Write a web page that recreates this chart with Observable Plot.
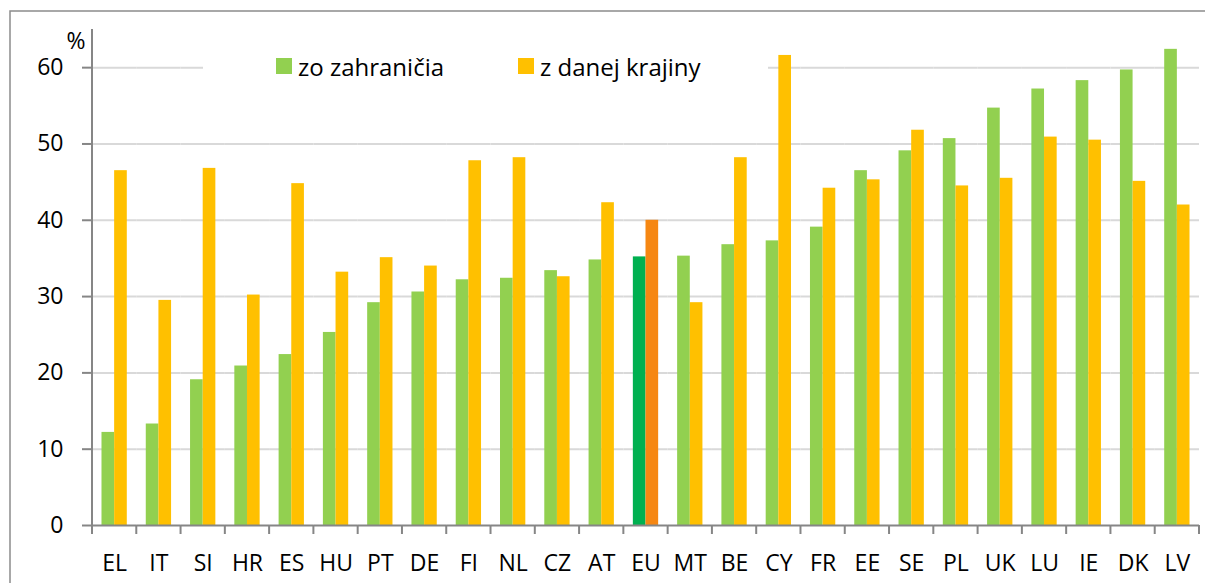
<!DOCTYPE html>
<html><head><meta charset="utf-8">
<script src="https://cdn.jsdelivr.net/npm/d3@7"></script>
<script src="https://cdn.jsdelivr.net/npm/@observablehq/plot@0.6"></script>
<style>
body{margin:0;background:#fff;font-family:"Open Sans",sans-serif}
#wrap{position:relative;width:1205px;height:583px;overflow:hidden}
#wrap svg text{font-size:23px !important}
#wrap svg g[aria-label^="y-axis"] line,#wrap svg g[aria-label="y-axis tick"] path{stroke:#868686;stroke-width:2}
#wrap svg g[aria-label^="y-axis"] path.domain{display:none}
.legend{position:absolute;left:203px;top:49px;width:565px;height:34px;background:#fff}
.item{position:absolute;top:0;height:34px;display:flex;align-items:center;font-size:24px;color:#000;white-space:nowrap}
.sw{width:16px;height:16px;margin-right:6px;flex:none}
</style></head><body><div id="wrap"></div>
<script>
const countries = ["EL","IT","SI","HR","ES","HU","PT","DE","FI","NL","CZ","AT","EU","MT","BE","CY","FR","EE","SE","PL","UK","LU","IE","DK","LV"];
const foreign  = [12.2,13.3,19.1,20.9,22.4,25.3,29.2,30.6,32.2,32.4,33.4,34.8,35.2,35.3,36.8,37.3,39.1,46.5,49.1,50.7,54.7,57.2,58.3,59.7,62.4];
const domestic = [46.5,29.5,46.8,30.2,44.8,33.2,35.1,34.0,47.8,48.2,32.6,42.3,40.0,29.2,48.2,61.6,44.2,45.3,51.8,44.5,45.5,50.9,50.5,45.1,42.0];
const seriesNames = ["zo zahraničia","z danej krajiny"];
const colorKeys = ["zo zahraničia","z danej krajiny","EU zo zahraničia","EU z danej krajiny"];
const colorRange = ["#92D050","#FFC000","#00B050","#F68712"];
const yTicks = [0,10,20,30,40,50,60];
const unitLabel = "%";

const rows = countries.flatMap((c,i)=>[
  {country:c, series:seriesNames[0], value:foreign[i]},
  {country:c, series:seriesNames[1], value:domestic[i]}
]).map(d=>({...d, key:(d.country==="EU"?"EU ":"")+d.series}));

const chart = Plot.plot({
  width:1205, height:583,
  marginLeft:92, marginRight:6, marginTop:29, marginBottom:58,
  style:{fontFamily:'"Open Sans",sans-serif', fontSize:"23px", color:"#000", background:"transparent"},
  fx:{domain:countries, padding:0, round:false, axis:"bottom", tickSize:0, tickPadding:29, label:null},
  x:{domain:seriesNames, paddingInner:0, paddingOuter:0.75, round:false, axis:null},
  y:{domain:[0,65], ticks:yTicks, tickSize:10, tickPadding:19, label:null},
  color:{domain:colorKeys, range:colorRange},
  marks:[
    Plot.ruleY(yTicks.slice(1), {stroke:"#d9d9d9", strokeWidth:2}),
    Plot.barY(rows, {fx:"country", x:"series", y:"value", fill:"key"}),
    Plot.ruleY([0], {stroke:"#868686", strokeWidth:2})
  ]
});
document.getElementById("wrap").appendChild(chart);

// extra decorations from the plot's own scales
const svg = d3.select(chart);
const fxs = chart.scale("fx"), ys = chart.scale("y");
const band = d3.scaleBand().domain(fxs.domain).range(fxs.range).padding(0);
const y0 = d3.max(ys.range), yTop = d3.min(ys.range);
const bounds = countries.map(c=>band(c)).concat([band.range()[1]]);
svg.append("g").selectAll("line").data(bounds).join("line")
  .attr("x1",d=>d).attr("x2",d=>d).attr("y1",y0).attr("y2",y0+9)
  .attr("stroke","#868686").attr("stroke-width",2);
svg.append("line").attr("x1",band.range()[0]).attr("x2",band.range()[0])
  .attr("y1",yTop).attr("y2",y0+1).attr("stroke","#868686").attr("stroke-width",2);
svg.append("text").attr("x",band.range()[0]-16).attr("y",yTop+20)
  .attr("text-anchor","middle").attr("fill","#000").text(unitLabel);
svg.append("rect").attr("x",10).attr("y",11).attr("width",1400).attr("height",800)
  .attr("fill","none").attr("stroke","#8c8c8c").attr("stroke-width",1.5);

// legend
const leg = d3.select("#wrap").append("div").attr("class","legend");
const legX = [73, 315];
seriesNames.forEach((s,i)=>{
  const it = leg.append("div").attr("class","item").style("left",legX[i]+"px");
  it.append("span").attr("class","sw").style("background",colorRange[i]);
  it.append("span").text(s);
});
</script></body></html>
